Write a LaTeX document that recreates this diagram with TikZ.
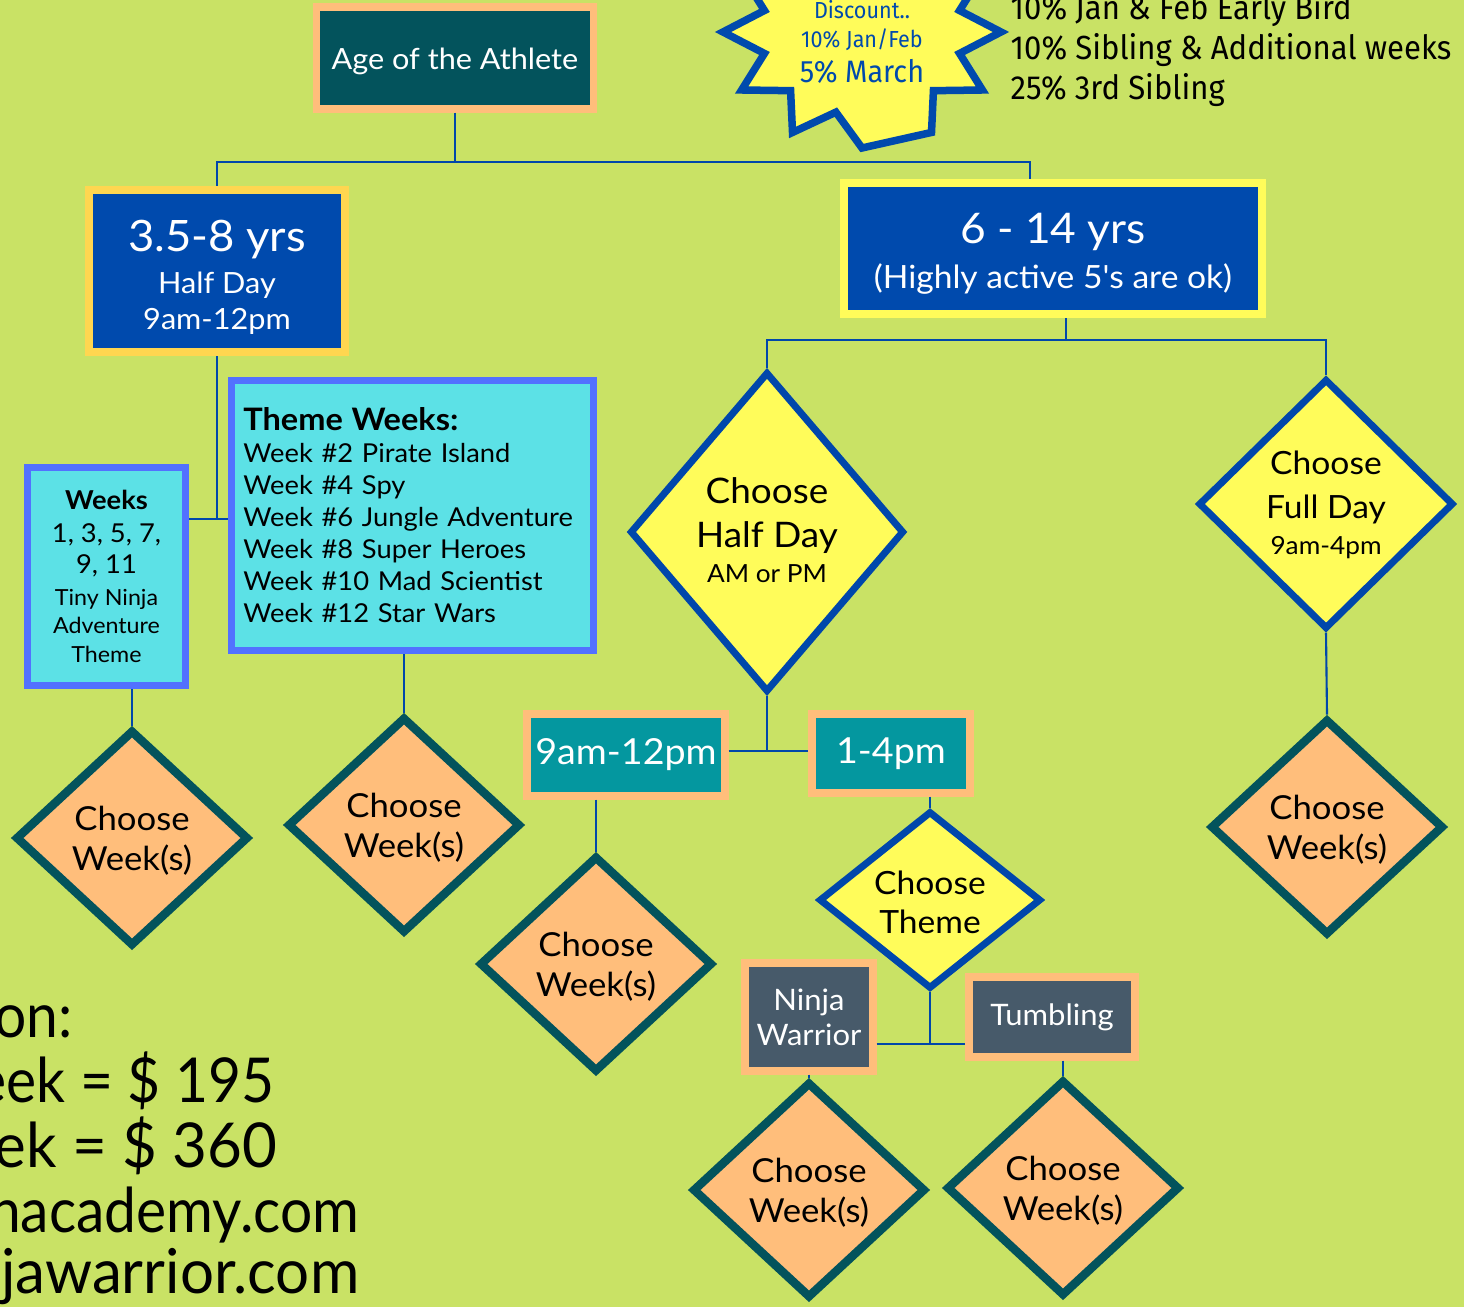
\documentclass[tikz,border=0pt]{standalone}
\usepackage{fontspec}
\setmainfont{Lato}[FakeStretch=1.05]
\newfontfamily\latoplain{Lato}[FakeStretch=1.05]
\newfontfamily\latonarrow{Lato}[FakeStretch=0.92]
\newfontfamily\latomid{Lato}[FakeStretch=0.97]
\newfontfamily\plex{Fira Sans}[FakeStretch=0.93]
\usepackage{xcolor}
\usepackage{tikz}
\usetikzlibrary{shapes.geometric,positioning}

\definecolor{lime}{HTML}{C9E265}
\definecolor{peach}{HTML}{FFBE7B}
\definecolor{petrol}{HTML}{03535C}
\definecolor{royal}{HTML}{004AAD}
\definecolor{gold}{HTML}{FFD650}
\definecolor{lemon}{HTML}{FFFC5A}
\definecolor{aqua}{HTML}{5CE1E6}
\definecolor{violet}{HTML}{5271FF}
\definecolor{teal}{HTML}{04979F}
\definecolor{slate}{HTML}{475A6A}
\definecolor{linkblue}{HTML}{0047AB}

\newcommand{\fsz}[2]{\fontsize{#1}{#2}\selectfont}

\begin{document}
\begin{tikzpicture}[x=0.01cm,y=-0.01cm,
          link/.style={draw=linkblue,line width=0.6pt},
          frame/.style={rectangle,line width=0.72mm,inner sep=0pt,align=center},
          agebox/.style={frame,draw=peach,fill=petrol,text=white},
          ybox/.style={frame,draw=gold,fill=royal,text=white,line width=0.8mm},
          obox/.style={frame,draw=lemon,fill=royal,text=white,line width=0.8mm},
          wbox/.style={frame,draw=violet,fill=aqua,text=black},
          slot/.style={frame,draw=peach,fill=teal,text=white,font=\fsz{10.2pt}{12pt}},
          sport/.style={frame,draw=peach,fill=slate,text=white,font=\fsz{8.4pt}{10pt}},
          ask/.style={diamond,draw=linkblue,line width=0.7mm,fill=lemon,inner sep=0pt,align=center,text=black,
                      text depth=0pt},
          pick/.style={diamond,draw=petrol,line width=0.85mm,fill=peach,inner sep=0pt,align=center,
                       minimum width=2.33cm,minimum height=2.16cm,font=\fsz{9.4pt}{11.4pt},
                       text height=18.5pt,text depth=0pt},
          price/.style={anchor=base east,inner sep=0pt,font=\latonarrow\fsz{17.6pt}{18pt}},
          burst/.style={draw=royal,line width=0.75mm,fill=lemon,line join=miter}]
  \fill[lime] (0,0) rectangle (1464,1307);
  \useasboundingbox (0,0) rectangle (1464,1307);
  \clip (0,0) rectangle (1464,1307);

  % discount star
  \coordinate (burst) at (862,32);
  \draw[burst] ([shift={(burst)}]90:139 and 116)
    \foreach \a in {90,120,...,390} {
      -- ([shift={(burst)}]\a+15:101 and 83) -- ([shift={(burst)}]\a+30:139 and 116)
    } -- cycle;
  \node[anchor=base,align=center,inner sep=0pt,text=royal,font=\plex\fsz{6.6pt}{8.3pt}] (disc) at (862,83)
    {Discount..\\10\% Jan/Feb\\[1.7pt]{\fsz{8.8pt}{9.7pt}5\% March}};
  \node[anchor=base west,align=left,inner sep=0pt,font=\plex\fsz{9.5pt}{11.4pt}] (perks) at (1010,100)
    {10\% Jan \& Feb Early Bird\\10\% Sibling \& Additional weeks\\25\% 3rd Sibling};

  % boxes
  \node[agebox,minimum width=2.77cm,minimum height=1.02cm,font=\fsz{8.3pt}{9.6pt},
        text height=6.3pt,text depth=0pt] (age) at (455,58) {Age of the Athlete};
  \node[ybox,minimum width=2.555cm,minimum height=1.625cm,font=\fsz{8.3pt}{10.2pt},
        text height=33pt,text depth=0pt] (young) at (217,271)
    {{\fsz{12.3pt}{11.7pt}3.5-8 yrs}\\[1.7pt]Half Day\\9am-12pm};
  \node[obox,minimum width=4.18cm,minimum height=1.31cm,font=\fsz{9.1pt}{12.9pt},
        text height=22.8pt,text depth=0pt] (older) at (1053,248.5)
    {{\fsz{12pt}{12.9pt}6 - 14 yrs}\\(Highly active 5{\latoplain '}s are ok)};
  \node[wbox,minimum width=1.58cm,minimum height=2.18cm,font=\fsz{7.4pt}{9.1pt},
        text height=48.7pt,text depth=0pt] (weeks) at (106.5,576.5)
    {\textbf{Weeks}\\[0.5pt]1, 3, 5, 7,\\[-0.3pt]9, 11\\{\fsz{6.3pt}{8pt}Tiny Ninja}\\[-1.1pt]{\fsz{6.3pt}{8pt}Adventure}\\[-1.1pt]{\fsz{6.3pt}{8pt}Theme}};
  \node[wbox,minimum width=3.62cm,minimum height=2.70cm,text width=3.38cm,align=left,font=\fsz{7.4pt}{9.1pt}] (themes) at (412.5,515.5)
    {{\fsz{8.8pt}{9.1pt}\textbf{Theme Weeks:}}\\Week \#2 Pirate Island\\Week \#4 Spy\\Week \#6 Jungle Adventure\\Week \#8 Super Heroes\\Week \#10 Mad Scientist\\Week \#12 Star Wars};

  % decisions
  \node[ask,minimum width=2.74cm,minimum height=3.2cm,font=\fsz{10pt}{12.5pt},text height=29pt] (half) at (767,532)
    {Choose\\Half Day\\[-2.3pt]{\fsz{7.1pt}{11pt}AM or PM}};
  \node[ask,minimum width=2.55cm,minimum height=2.5cm,font=\fsz{9.1pt}{12.5pt},text height=29pt] (full) at (1326,504)
    {Choose\\Full Day\\[-2pt]{\fsz{7.1pt}{11pt}9am-4pm}};
  \node[slot,minimum width=1.98cm,minimum height=0.82cm] (am) at (626,755) {9am-12pm};
  \node[slot,minimum width=1.58cm,minimum height=0.79cm] (pm) at (891,753.5) {1-4pm};
  \node[ask,minimum width=2.22cm,minimum height=1.76cm,font=\fsz{9.1pt}{11.1pt},text height=18.8pt] (theme) at (930,900)
    {Choose\\Theme};
  \node[sport,minimum width=1.28cm,minimum height=1.08cm] (ninja) at (809,1017) {Ninja\\Warrior};
  \node[sport,minimum width=1.66cm,minimum height=0.80cm] (tumb) at (1052,1017) {Tumbling};

  \node[pick] (d1) at (132,838) {Choose\\Week(s)};
  \node[pick] (d2) at (404,825) {Choose\\Week(s)};
  \node[pick] (d3) at (596,964) {Choose\\Week(s)};
  \node[pick] (d4) at (1327,827) {Choose\\Week(s)};
  \node[pick] (d5) at (809,1190) {Choose\\Week(s)};
  \node[pick] (d6) at (1063,1188) {Choose\\Week(s)};

  % prices, cut at the left edge
  \node[price] (tline) at (73,1037) {on:};
  \node[price] (hline) at (275,1102) {eek = \$ 195};
  \node[price] (fline) at (278,1167) {\latomid ek = \$ 360};
  \node[price] (aweb) at (360,1232) {hacademy.com};
  \node[price] (nweb) at (360,1293) {\latomid jawarrior.com};

  % connectors
  \coordinate (j1) at (455,162);
  \coordinate (j2) at (217,519);
  \coordinate (j3) at (1066,340);
  \coordinate (j4) at (767,751);
  \coordinate (j5) at (930,1044);
  \draw[link] (age.south) -- (j1);
  \draw[link] (young.north) |- (j1) -| ([xshift=-0.23cm]older.north);
  \draw[link] (young.south) -- (j2);
  \draw[link] (weeks.east |- j2) -- (themes.west |- j2);
  \draw[link] (d1.north |- weeks.south) -- (d1.north);
  \draw[link] (d2.north |- themes.south) -- (d2.north);
  \draw[link] (j3 |- older.south) -- (j3);
  \draw[link] (half.north) |- (j3) -| (full.north);
  \draw[link] (half.south) -- (j4);
  \draw[link] (am.east |- j4) -- (pm.west |- j4);
  \draw[link] (d3.north |- am.south) -- (d3.north);
  \draw[link] (theme.north |- pm.south) -- (theme.north);
  \draw[link] (theme.south) -- (j5);
  \draw[link] (ninja.east |- j5) -- (tumb.west |- j5);
  \draw[link] (ninja.south) -- (d5.north);
  \draw[link] (d6.north |- tumb.south) -- (d6.north);
  \draw[link] (full.south) -- (d4.north);
\end{tikzpicture}
\end{document}
